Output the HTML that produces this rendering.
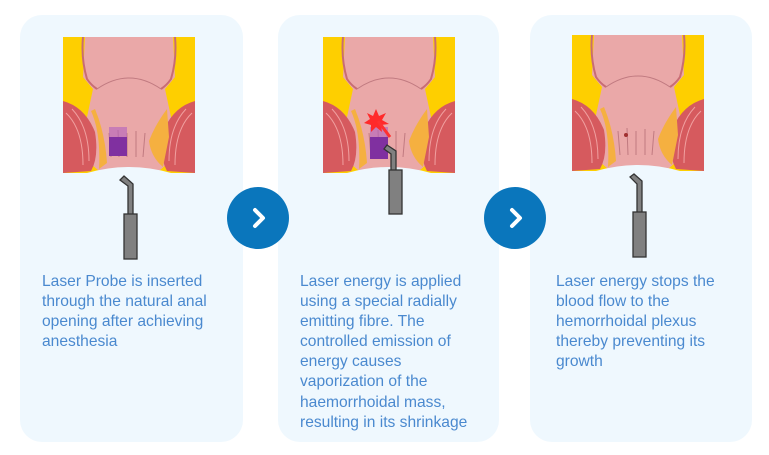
<!DOCTYPE html>
<html><head><meta charset="utf-8"><style>
body{margin:0;width:769px;height:455px;background:#fff;position:relative;overflow:hidden;font-family:"Liberation Sans",sans-serif}
.card{position:absolute;top:15px;height:427px;background:#eff8fe;border-radius:22px}
.txt{position:absolute;top:272px;font-size:15.6px;line-height:20.1px;color:#4a89cf}
.circ{position:absolute;width:62px;height:62px;border-radius:50%;background:#0a76bc;top:187px}
.circ svg{position:absolute;left:0;top:0}
.ill{position:absolute}
</style></head><body>
<div class="card" style="left:20px;width:223px"></div>
<div class="card" style="left:278px;width:221px"></div>
<div class="card" style="left:530px;width:222px"></div>

<svg width="0" height="0" style="position:absolute"><defs>
<g id="anat">
<rect x="0" y="0" width="132" height="136" fill="#fecf00"/>
<path d="M22 0 L110 0 L112 40 L102 52 L108 80 L112 120 L96 134 L36 134 L20 120 L24 80 L30 52 L20 40 Z" fill="#eaa8a8"/>
<path d="M20 0 Q18 22 24 42 Q28 48 34 52 M112 0 Q114 22 108 42 Q104 48 98 52" stroke="#c86c74" stroke-width="2" fill="none"/>
<path d="M34 52 Q66 30 98 52" stroke="#c07a80" fill="none"/>
<path d="M0 64 Q22 70 32 95 Q36 120 28 134 L0 136 Z" fill="#d65a5e"/>
<path d="M132 64 Q110 70 100 95 Q96 120 104 134 L132 136 Z" fill="#d65a5e"/>
<path d="M3 76 Q20 92 20 128 M9 72 Q26 90 26 124 M129 76 Q112 92 112 128 M123 72 Q106 90 106 124" stroke="#f0a0a0" fill="none"/>
<path d="M28 74 Q38 96 36 132 L44 126 Q42 96 32 72Z" fill="#f5b040"/>
<path d="M104 72 Q92 88 86 104 Q88 120 100 130 L106 100Z" fill="#f5b040"/>
<path d="M46 96 L48 120 M55 93 L56 120 M64 96 L64 120 M73 94 L73 120 M82 96 L80 120" stroke="#c07a80" fill="none"/>
<path d="M24 136 Q66 124 108 136 Z" fill="#eff8fe"/>
</g>
</defs></svg>

<svg class="ill" style="left:63px;top:37px" width="132" height="136"><use href="#anat"/><rect x="46" y="100" width="18" height="19" fill="#8030a0"/><rect x="46" y="90" width="18" height="10" fill="#b060c0" opacity=".6"/></svg>
<svg class="ill" style="left:323px;top:37px" width="132" height="136"><use href="#anat"/><rect x="47" y="100" width="18" height="22" fill="#8030a0"/><rect x="47" y="90" width="18" height="10" fill="#b060c0" opacity=".6"/>
<polygon points="53,72 56,79 63,76 59,83 66,87 58,88 59,95 53,90 48,95 48,88 41,86 47,82 44,76 50,79" fill="#ff2a2a"/><line x1="55" y1="84" x2="67" y2="100" stroke="#ff3030" stroke-width="3"/></svg>
<svg class="ill" style="left:572px;top:35px" width="132" height="136"><use href="#anat"/><circle cx="54" cy="100" r="2" fill="#a03030"/></svg>

<svg class="ill" style="left:0;top:0" width="769" height="455">
<g fill="#808080" stroke="#333" stroke-width="1.3">
<path d="M120 180 L124 176 L133 184 L133 215 L128 215 L128 186 Z"/>
<rect x="124" y="214" width="13" height="45"/>
<path d="M387 145 L396 151 L396 171 L391 171 L391 154 L384 149 Z"/>
<rect x="389" y="170" width="13" height="44"/>
<path d="M630 177 L634 174 L642 181 L642 213 L637 213 L637 184 Z"/>
<rect x="633" y="212" width="13" height="45"/>
</g></svg>

<div class="circ" style="left:227px"><svg width="62" height="62"><path d="M28 23 L36 31 L28 39" stroke="#fff" stroke-width="4" fill="none" stroke-linecap="round" stroke-linejoin="round"/></svg></div>
<div class="circ" style="left:484px"><svg width="62" height="62"><path d="M28 23 L36 31 L28 39" stroke="#fff" stroke-width="4" fill="none" stroke-linecap="round" stroke-linejoin="round"/></svg></div>

<div class="txt" style="left:42px">Laser Probe is inserted<br>through the natural anal<br>opening after achieving<br>anesthesia</div>
<div class="txt" style="left:300px">Laser energy is applied<br>using a special radially<br>emitting fibre. The<br>controlled emission of<br>energy causes<br>vaporization of the<br>haemorrhoidal mass,<br>resulting in its shrinkage</div>
<div class="txt" style="left:556px">Laser energy stops the<br>blood flow to the<br>hemorrhoidal plexus<br>thereby preventing its<br>growth</div>
</body></html>
